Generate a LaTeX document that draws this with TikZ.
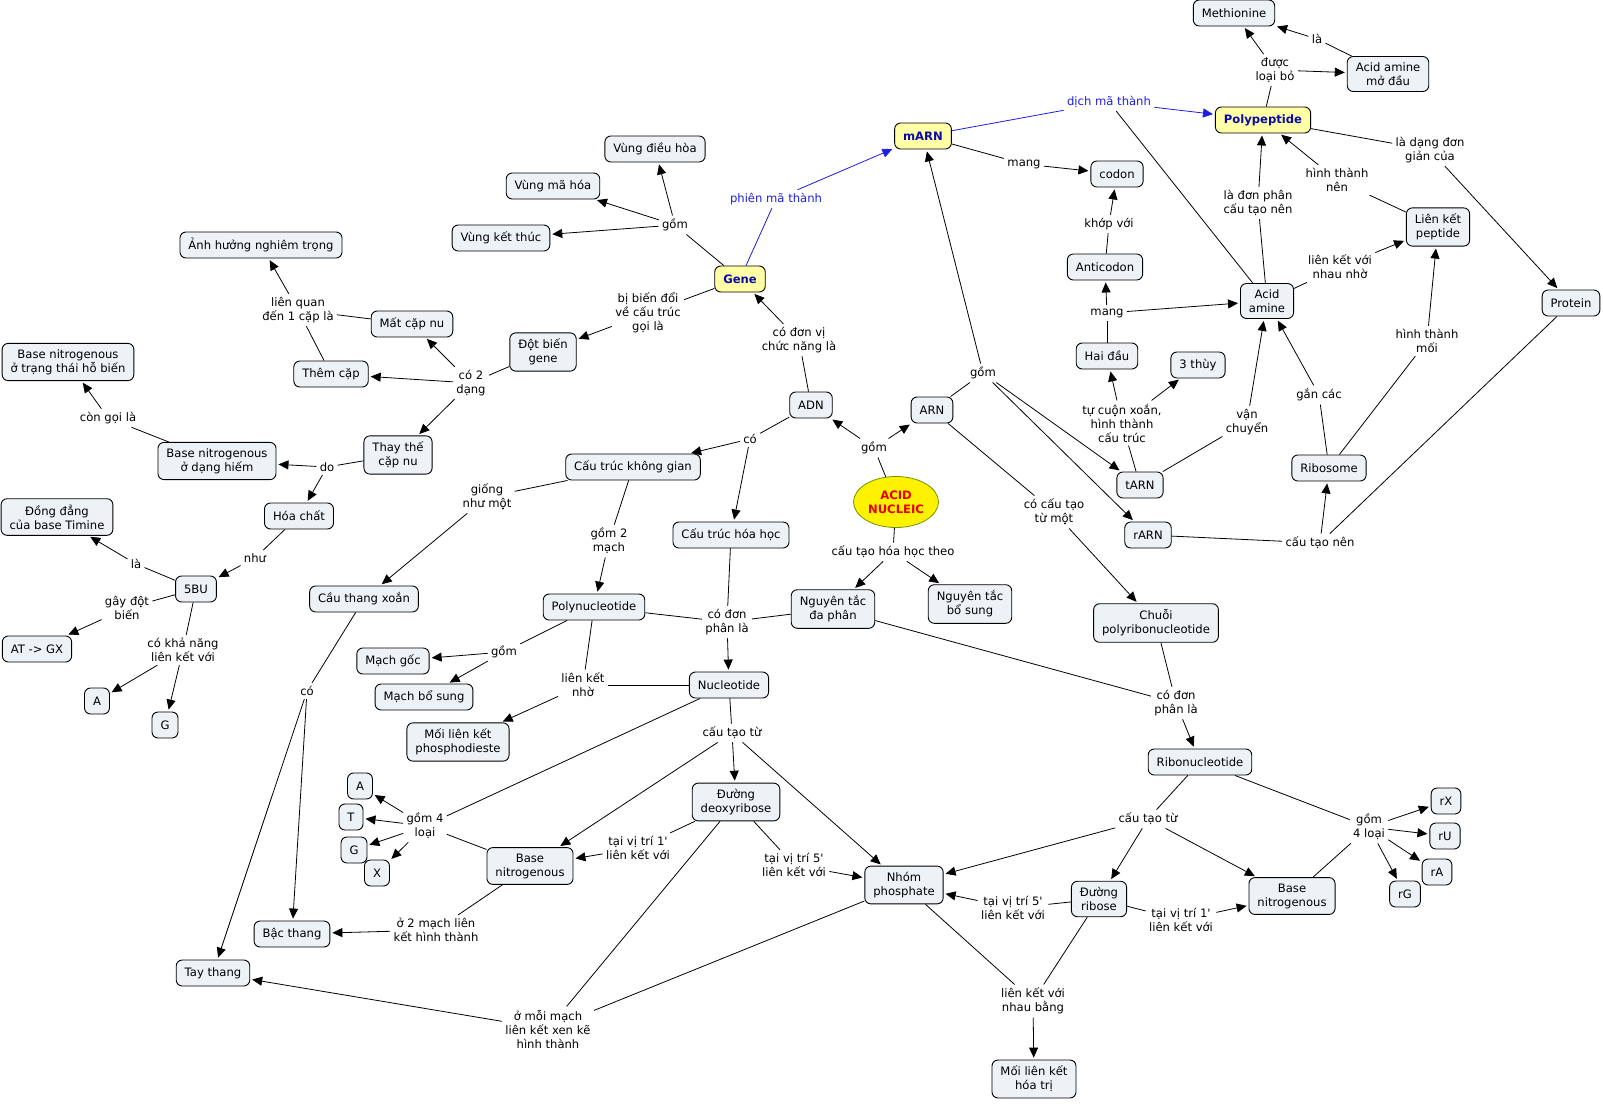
\documentclass[tikz,border=0pt]{standalone}
\usepackage{fontspec}
\setmainfont{DejaVu Sans}[Ligatures=TeXOff]
\usetikzlibrary{arrows.meta,shapes.geometric}

\definecolor{boxfill}{RGB}{236,242,245}
\definecolor{keyfill}{RGB}{255,255,166}
\definecolor{keyblue}{RGB}{10,10,170}
\definecolor{linkblue}{RGB}{30,30,225}
\definecolor{nucred}{RGB}{230,0,0}
\definecolor{nucedge}{RGB}{110,150,0}

\newcommand{\mapfont}{\fontsize{11.6}{14}\selectfont}

\tikzset{
  concept/.style={draw=black, line width=0.9pt, rounded corners=6pt, fill=boxfill,
    align=center, inner xsep=8.5pt, inner ysep=6pt, minimum height=26pt},
  keyconcept/.style={concept, fill=keyfill, font=\mapfont\bfseries, text=keyblue},
  phrase/.style={align=center, inner sep=3pt},
  arr/.style={-{Triangle[length=10pt,width=9pt]}, shorten >=2pt},
}

\begin{document}
\begin{tikzpicture}[x=1pt, y=-1pt, line width=0.8pt, font=\mapfont]

\fill[white] (0,0) rectangle (1603,1103);
\useasboundingbox (0,0) rectangle (1603,1103);

% ===== Khái niệm chính =====
\node[ellipse, draw=nucedge, fill=yellow, text=nucred, font=\mapfont\bfseries,
  minimum width=85pt, minimum height=51pt, inner sep=0pt, align=center] (acid) at (896,502) {ACID\\NUCLEIC};
\node[concept] (adn) at (811,405) {ADN};
\node[concept] (arn) at (932,410) {ARN};
\node[keyconcept] (gene) at (740,279) {Gene};
\node[keyconcept] (marn) at (923,136) {mARN};
\node[keyconcept] (poly) at (1263,120) {Polypeptide};

% ===== Nhánh Gene / đột biến =====
\node[concept] (vdh) at (655,149) {Vùng điều hòa};
\node[concept] (vmh) at (553,186) {Vùng mã hóa};
\node[concept] (vkt) at (501,238) {Vùng kết thúc};
\node[concept] (dbg) at (543,352) {Đột biến\\gene};
\node[concept] (matcap) at (412,324) {Mất cặp nu};
\node[concept] (themcap) at (331,374) {Thêm cặp};
\node[concept] (anhhuong) at (261,245) {Ảnh hưởng nghiêm trọng};
\node[concept] (thaythe) at (398,455) {Thay thế\\cặp nu};
\node[concept] (bnhiem) at (217,461) {Base nitrogenous\\ở dạng hiếm};
\node[concept] (bnhobien) at (68,362) {Base nitrogenous\\ở trạng thái hỗ biến};
\node[concept] (hoachat) at (299,516) {Hóa chất};
\node[concept] (dongdang) at (57,517) {Đồng đẳng\\của base Timine};
\node[concept] (bu) at (196,589) {5BU};
\node[concept] (atgx) at (37,649) {AT -> GX};
\node[concept] (ba) at (97,701) {A};
\node[concept] (bg) at (165,725) {G};

% ===== Nhánh ADN =====
\node[concept] (ctkg) at (633,467) {Cấu trúc không gian};
\node[concept] (cthh) at (731,535) {Cấu trúc hóa học};
\node[concept] (cthx) at (364,599) {Cầu thang xoắn};
\node[concept] (polynu) at (594,607) {Polynucleotide};
\node[concept] (mgoc) at (393,661) {Mạch gốc};
\node[concept] (mbs) at (424,697) {Mạch bổ sung};
\node[concept] (nucleo) at (729,685) {Nucleotide};
\node[concept] (phdi) at (458,742) {Mối liên kết\\phosphodieste};
\node[concept] (ntdp) at (833,609) {Nguyên tắc\\đa phân};
\node[concept] (ntbs) at (970,604) {Nguyên tắc\\bổ sung};
\node[concept] (deoxy) at (736,802) {Đường\\deoxyribose};
\node[concept] (basedn) at (530,866) {Base\\nitrogenous};
\node[concept] (phos) at (904,885) {Nhóm\\phosphate};
\node[concept] (na) at (360,786) {A};
\node[concept] (nt) at (351,817) {T};
\node[concept] (ng) at (354,850) {G};
\node[concept] (nx) at (377,873) {X};
\node[concept] (bac) at (292,934) {Bậc thang};
\node[concept] (tay) at (213,973) {Tay thang};
\node[concept] (lkht) at (1034,1079) {Mối liên kết\\hóa trị};

% ===== Nhánh ARN =====
\node[concept] (tarn) at (1140,485) {tARN};
\node[concept] (rarn) at (1148,535) {rARN};
\node[concept] (chuoi) at (1156,623) {Chuỗi\\polyribonucleotide};
\node[concept] (ribonu) at (1200,762) {Ribonucleotide};
\node[concept] (dribose) at (1099,899) {Đường\\ribose};
\node[concept] (basern) at (1292,896) {Base\\nitrogenous};
\node[concept] (rx) at (1446,801) {rX};
\node[concept] (ru) at (1445,836) {rU};
\node[concept] (ra) at (1437,872) {rA};
\node[concept] (rg) at (1405,894) {rG};
\node[concept] (codon) at (1117,174) {codon};
\node[concept] (antic) at (1105,267) {Anticodon};
\node[concept] (haidau) at (1107,356) {Hai đầu};
\node[concept] (bathuy) at (1198,365) {3 thùy};
\node[concept] (aa) at (1267,301) {Acid\\amine};
\node[concept] (lkpep) at (1438,227) {Liên kết\\peptide};
\node[concept] (protein) at (1571,303) {Protein};
\node[concept] (ribo) at (1329,468) {Ribosome};
\node[concept] (meth) at (1234,13) {Methionine};
\node[concept] (aamd) at (1388,74) {Acid amine\\mở đầu};

% ===== Từ nối =====
\node[phrase] (lgom1) at (675,225) {gồm};
\node[phrase, text=linkblue] (lphien) at (776,199) {phiên mã thành};
\node[phrase] (lbien) at (648,313) {bị biến đổi\\về cấu trúc\\gọi là};
\node[phrase] (ldonvi) at (799,340) {có đơn vị\\chức năng là};
\node[phrase] (lco2) at (471,383) {có 2\\dạng};
\node[phrase] (llq) at (298,310) {liên quan\\đến 1 cặp là};
\node[phrase] (ldo) at (327,467) {do};
\node[phrase] (lcongoi) at (108,418) {còn gọi là};
\node[phrase] (lnhu) at (255,558) {như};
\node[phrase] (lla5) at (136,564) {là};
\node[phrase] (lgay) at (127,608) {gây đột\\biến};
\node[phrase] (lkha) at (183,650) {có khả năng\\liên kết với};
\node[phrase] (lgom2) at (874,448) {gồm};
\node[phrase] (lcth) at (893,552) {cấu tạo hóa học theo};
\node[phrase] (lco) at (750,439) {có};
\node[phrase] (lgiong) at (487,497) {giống\\như một};
\node[phrase] (lgom2m) at (609,541) {gồm 2\\mạch};
\node[phrase] (lcothang) at (307,691) {có};
\node[phrase] (lgomp) at (504,652) {gồm};
\node[phrase] (llknho) at (583,685) {liên kết\\nhờ};
\node[phrase] (ldonphan) at (727,622) {có đơn\\phân là};
\node[phrase] (lcautao) at (732,733) {cấu tạo từ};
\node[phrase] (lgom4) at (425,826) {gồm 4\\loại};
\node[phrase] (lvt1) at (638,848) {tại vị trí 1'\\liên kết với};
\node[phrase] (lvt5) at (794,865) {tại vị trí 5'\\liên kết với};
\node[phrase] (lhai) at (436,930) {ở 2 mạch liên\\kết hình thành};
\node[phrase] (lmoi) at (548,1029) {ở mỗi mạch\\liên kết xen kẽ\\hình thành};
\node[phrase] (lgom3) at (983,373) {gồm};
\node[phrase] (lcocau) at (1054,512) {có cấu tạo\\từ một};
\node[phrase] (ldonphan2) at (1176,703) {có đơn\\phân là};
\node[phrase] (lcautao2) at (1148,819) {cấu tạo từ};
\node[phrase] (lgom4r) at (1369,827) {gồm\\4 loại};
\node[phrase] (lvt5r) at (1013,908) {tại vị trí 5'\\liên kết với};
\node[phrase] (lvt1r) at (1181,920) {tại vị trí 1'\\liên kết với};
\node[phrase] (llkvn) at (1033,1001) {liên kết với\\nhau bằng};
\node[phrase] (lmang1) at (1024,164) {mang};
\node[phrase, text=linkblue] (ldich) at (1109,102) {dịch mã thành};
\node[phrase] (lkhop) at (1109,224) {khớp với};
\node[phrase] (lmang2) at (1107,313) {mang};
\node[phrase] (ltucuon) at (1122,423) {tự cuộn xoắn,\\hình thành\\cấu trúc};
\node[phrase] (lvanch) at (1247,422) {vận\\chuyển};
\node[phrase] (lgan) at (1319,395) {gắn các};
\node[phrase] (lcautao3) at (1320,543) {cấu tạo nên};
\node[phrase] (lhtmoi) at (1427,341) {hình thành\\mối};
\node[phrase] (llkvoi) at (1340,267) {liên kết với\\nhau nhờ};
\node[phrase] (ldonphan3) at (1258,203) {là đơn phân\\cấu tạo nên};
\node[phrase] (lhtnen) at (1337,180) {hình thành\\nên};
\node[phrase] (ldang) at (1430,150) {là dạng đơn\\giản của};
\node[phrase] (lduoc) at (1275,70) {được\\loại bỏ};
\node[phrase] (llam) at (1317,39) {là};

% ===== Gene / đột biến =====
\draw (gene) -- (lgom1);
\foreach \t in {vdh,vmh,vkt} \draw[arr] (lgom1) -- (\t);
\draw[linkblue] (gene) -- (lphien);
\draw[arr,linkblue] (lphien) -- (marn);
\draw (gene) -- (lbien);
\draw[arr] (lbien) -- (dbg);
\draw (adn) -- (ldonvi);
\draw[arr] (ldonvi) -- (gene);
\draw (dbg) -- (lco2);
\foreach \t in {matcap,themcap,thaythe} \draw[arr] (lco2) -- (\t);
\draw (matcap) -- (llq);
\draw (themcap) -- (llq);
\draw[arr] (llq) -- (anhhuong);
\draw (thaythe) -- (ldo);
\foreach \t in {bnhiem,hoachat} \draw[arr] (ldo) -- (\t);
\draw (bnhiem) -- (lcongoi);
\draw[arr] (lcongoi) -- (bnhobien);
\draw (hoachat) -- (lnhu);
\draw[arr] (lnhu) -- (bu);
\draw (bu) -- (lla5);
\draw[arr] (lla5) -- (dongdang);
\draw (bu) -- (lgay);
\draw[arr] (lgay) -- (atgx);
\draw (bu) -- (lkha);
\foreach \t in {ba,bg} \draw[arr] (lkha) -- (\t);

% ===== ADN =====
\draw (acid) -- (lgom2);
\foreach \t in {adn,arn} \draw[arr] (lgom2) -- (\t);
\draw (acid) -- (lcth);
\foreach \t in {ntdp,ntbs} \draw[arr] (lcth) -- (\t);
\draw (adn) -- (lco);
\foreach \t in {ctkg,cthh} \draw[arr] (lco) -- (\t);
\draw (ctkg) -- (lgiong);
\draw[arr] (lgiong) -- (cthx);
\draw (ctkg) -- (lgom2m);
\draw[arr] (lgom2m) -- (polynu);
\draw (cthx) -- (lcothang);
\foreach \t in {bac,tay} \draw[arr] (lcothang) -- (\t);
\draw (polynu) -- (lgomp);
\foreach \t in {mgoc,mbs} \draw[arr] (lgomp) -- (\t);
\draw (polynu) -- (llknho);
\draw (nucleo) -- (llknho);
\draw[arr] (llknho) -- (phdi);
\foreach \s in {cthh,polynu,ntdp} \draw (\s) -- (ldonphan);
\draw[arr] (ldonphan) -- (nucleo);
\draw (nucleo) -- (lcautao);
\foreach \t in {deoxy,basedn,phos} \draw[arr] (lcautao) -- (\t);
\draw (nucleo) -- (lgom4);
\draw (basedn) -- (lgom4);
\foreach \t in {na,nt,ng,nx} \draw[arr] (lgom4) -- (\t);
\draw (deoxy) -- (lvt1);
\draw[arr] (lvt1) -- (basedn);
\draw (deoxy) -- (lvt5);
\draw[arr] (lvt5) -- (phos);
\draw (basedn) -- (lhai);
\draw[arr] (lhai) -- (bac);
\draw (deoxy) -- (lmoi);
\draw (phos) -- (lmoi);
\draw[arr] (lmoi) -- (tay);

% ===== ARN =====
\draw (arn) -- (lgom3);
\foreach \t in {marn,tarn,rarn} \draw[arr] (lgom3) -- (\t);
\draw (arn) -- (lcocau);
\draw[arr] (lcocau) -- (chuoi);
\draw (chuoi) -- (ldonphan2);
\draw (ntdp) -- (ldonphan2);
\draw[arr] (ldonphan2) -- (ribonu);
\draw (ribonu) -- (lcautao2);
\foreach \t in {phos,dribose,basern} \draw[arr] (lcautao2) -- (\t);
\draw (ribonu) -- (lgom4r);
\draw (basern) -- (lgom4r);
\foreach \t in {rx,ru,ra,rg} \draw[arr] (lgom4r) -- (\t);
\draw (dribose) -- (lvt5r);
\draw[arr] (lvt5r) -- (phos);
\draw (dribose) -- (lvt1r);
\draw[arr] (lvt1r) -- (basern);
\draw (phos) -- (llkvn);
\draw (dribose) -- (llkvn);
\draw[arr] (llkvn) -- (lkht);

% ===== mARN / protein =====
\draw (marn) -- (lmang1);
\draw[arr] (lmang1) -- (codon);
\draw[linkblue] (marn) -- (ldich);
\draw[arr,linkblue] (ldich) -- (poly);
\draw (aa) -- (ldich);
\draw (antic) -- (lkhop);
\draw[arr] (lkhop) -- (codon);
\draw (haidau) -- (lmang2);
\foreach \t in {antic,aa} \draw[arr] (lmang2) -- (\t);
\draw (tarn) -- (ltucuon);
\foreach \t in {haidau,bathuy} \draw[arr] (ltucuon) -- (\t);
\draw (tarn) -- (lvanch);
\draw[arr] (lvanch) -- (aa);
\draw (ribo) -- (lgan);
\draw[arr] (lgan) -- (aa);
\draw (ribo) -- (lhtmoi);
\draw[arr] (lhtmoi) -- (lkpep);
\draw (aa) -- (llkvoi);
\draw[arr] (llkvoi) -- (lkpep);
\draw (aa) -- (ldonphan3);
\draw[arr] (ldonphan3) -- (poly);
\draw (lkpep) -- (lhtnen);
\draw[arr] (lhtnen) -- (poly);
\draw (poly) -- (ldang);
\draw[arr] (ldang) -- (protein);
\draw (poly) -- (lduoc);
\foreach \t in {meth,aamd} \draw[arr] (lduoc) -- (\t);
\draw (aamd) -- (llam);
\draw[arr] (llam) -- (meth);
\draw (rarn) -- (lcautao3);
\draw (protein) -- (lcautao3);
\draw[arr] (lcautao3) -- (ribo);

\end{tikzpicture}
\end{document}
